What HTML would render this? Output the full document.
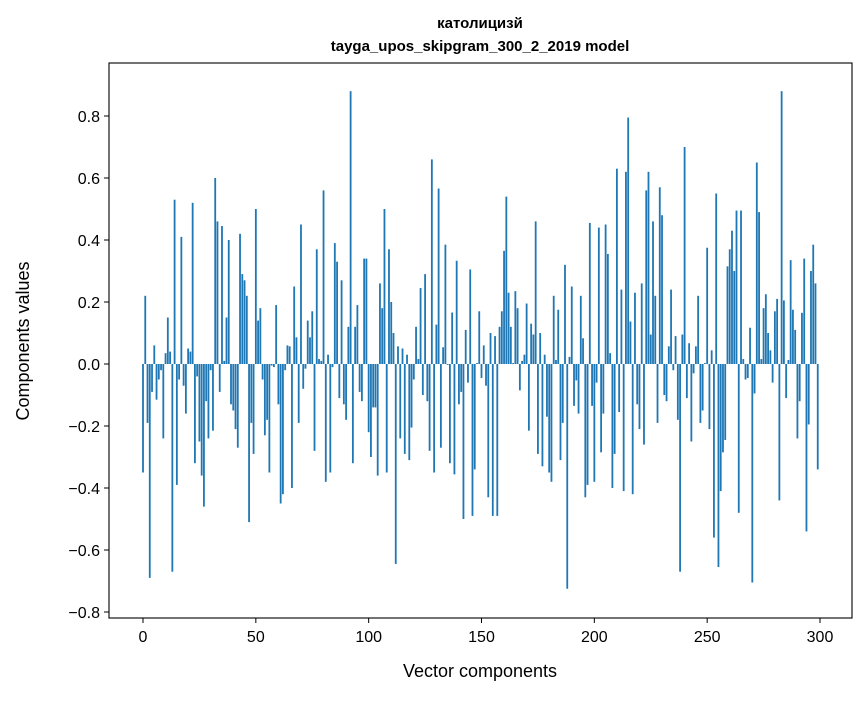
<!DOCTYPE html>
<html><head><meta charset="utf-8"><style>
body{margin:0;background:#fff;}
svg text{font-family:"Liberation Sans","DejaVu Sans",sans-serif;}
</style></head><body>
<svg id="chart" width="867" height="696" xmlns="http://www.w3.org/2000/svg">
<rect width="867" height="696" fill="#fff"/>
<text x="480" y="28" text-anchor="middle" font-size="15" font-weight="bold">католицизй</text>
<text x="480" y="51" text-anchor="middle" font-size="15" font-weight="bold">tayga_upos_skipgram_300_2_2019 model</text>
<g id="bars"></g>
<g id="axes"></g>
<text x="480" y="677" text-anchor="middle" font-size="18">Vector components</text>
<text x="29" y="341" text-anchor="middle" font-size="18" transform="rotate(-90 29 341)">Components values</text>
</svg>
<script>
const values = [
-0.35,0.22,-0.19,-0.69,-0.09,0.06,-0.115,-0.05,-0.02,-0.24,
0.035,0.15,0.04,-0.67,0.53,-0.39,-0.05,0.41,-0.07,-0.16,
0.05,0.04,0.52,-0.32,-0.04,-0.25,-0.36,-0.46,-0.12,-0.24,
-0.02,-0.215,0.60,0.46,-0.09,0.445,0.01,0.15,0.40,-0.13,
-0.15,-0.21,-0.27,0.42,0.29,0.27,0.22,-0.51,-0.19,-0.29,
0.50,0.14,0.18,-0.05,-0.23,-0.18,-0.35,-0.005,-0.01,0.19,
-0.13,-0.45,-0.42,-0.02,0.06,0.057,-0.40,0.25,0.086,-0.19,
0.45,-0.08,-0.015,0.14,0.086,0.17,-0.28,0.37,0.016,0.01,
0.56,-0.38,0.03,-0.35,-0.01,0.39,0.33,-0.11,0.27,-0.13,
-0.18,0.12,0.88,-0.32,0.12,0.19,-0.09,-0.12,0.34,0.34,
-0.22,-0.30,-0.14,-0.14,-0.36,0.26,0.18,0.50,-0.35,0.37,
0.20,0.10,-0.645,0.057,-0.24,0.05,-0.29,0.03,-0.31,-0.205,
-0.05,0.12,0.016,0.245,-0.10,0.29,-0.12,-0.28,0.66,-0.35,
0.127,0.566,-0.27,0.054,0.385,-0.003,-0.32,0.166,-0.356,0.333,
-0.13,-0.09,-0.50,0.11,-0.06,0.305,-0.49,-0.34,0.003,0.17,
-0.045,0.06,-0.07,-0.43,0.10,-0.49,0.09,-0.49,0.12,0.17,
0.365,0.54,0.23,0.12,0.003,0.235,0.18,-0.085,0.01,0.03,
0.195,-0.215,0.13,0.095,0.46,-0.29,0.10,-0.33,0.03,-0.17,
-0.35,-0.38,0.22,0.013,0.175,-0.31,-0.19,0.32,-0.725,0.023,
0.25,-0.135,-0.053,-0.16,0.22,0.083,-0.43,-0.39,0.455,-0.135,
-0.38,-0.06,0.44,-0.285,-0.16,0.45,0.355,0.035,-0.40,-0.29,
0.63,-0.155,0.24,-0.41,0.62,0.795,0.137,-0.42,0.23,-0.13,
-0.21,0.26,-0.26,0.56,0.62,0.095,0.46,0.22,-0.19,0.57,
0.48,-0.10,-0.12,0.057,0.24,-0.02,0.09,-0.18,-0.67,0.095,
0.70,-0.11,0.067,-0.25,-0.03,0.057,0.22,-0.19,-0.15,0.003,
0.375,-0.21,0.044,-0.56,0.55,-0.655,-0.41,-0.285,-0.245,0.315,
0.37,0.43,0.30,0.495,-0.48,0.495,0.016,-0.05,-0.045,0.117,
-0.705,-0.095,0.65,0.49,0.016,0.18,0.225,0.10,0.044,-0.06,
0.17,0.21,-0.44,0.88,0.205,-0.11,0.013,0.335,0.175,0.11,
-0.24,-0.12,0.165,0.34,-0.54,-0.195,0.30,0.385,0.26,-0.34
];
const xTicks = [0,50,100,150,200,250,300];
const yTicks = [-0.8,-0.6,-0.4,-0.2,0.0,0.2,0.4,0.6,0.8];
const yTickLabels = ["−0.8","−0.6","−0.4","−0.2","0.0","0.2","0.4","0.6","0.8"];

const NS="http://www.w3.org/2000/svg";
const plot={left:109,right:852,top:63,bottom:618};
function xs(i){return 143+i*(820-143)/300;}
function ys(v){return 364-v*310;}
const bw=0.8*(820-143)/300;
const bars=document.getElementById('bars');
values.forEach((v,i)=>{
  const r=document.createElementNS(NS,'rect');
  const y0=ys(0), y1=ys(v);
  r.setAttribute('x',xs(i)-bw/2);
  r.setAttribute('y',Math.min(y0,y1));
  r.setAttribute('width',bw);
  r.setAttribute('height',Math.abs(y1-y0));
  r.setAttribute('fill','#1f77b4');
  
  
  bars.appendChild(r);
});
const axes=document.getElementById('axes');
const frame=document.createElementNS(NS,'rect');
frame.setAttribute('x',plot.left);frame.setAttribute('y',plot.top);
frame.setAttribute('width',plot.right-plot.left);frame.setAttribute('height',plot.bottom-plot.top);
frame.setAttribute('fill','none');frame.setAttribute('stroke','#000');frame.setAttribute('stroke-width','1.1');


axes.appendChild(frame);
xTicks.forEach(t=>{
  const x=xs(t);
  const l=document.createElementNS(NS,'line');
  l.setAttribute('x1',x);l.setAttribute('x2',x);l.setAttribute('y1',plot.bottom);l.setAttribute('y2',plot.bottom+5);
  l.setAttribute('stroke','#000');
  
  
  axes.appendChild(l);
  const tx=document.createElementNS(NS,'text');
  tx.setAttribute('x',x);tx.setAttribute('y',642);tx.setAttribute('text-anchor','middle');tx.setAttribute('font-size','16');
  tx.textContent=String(t);
  
  
  axes.appendChild(tx);
});
yTicks.forEach((t,i)=>{
  const y=ys(t);
  const l=document.createElementNS(NS,'line');
  l.setAttribute('x1',plot.left-5);l.setAttribute('x2',plot.left);l.setAttribute('y1',y);l.setAttribute('y2',y);
  l.setAttribute('stroke','#000');
  
  
  axes.appendChild(l);
  const tx=document.createElementNS(NS,'text');
  tx.setAttribute('x',plot.left-9);tx.setAttribute('y',y+6);tx.setAttribute('text-anchor','end');tx.setAttribute('font-size','16');
  tx.textContent=yTickLabels[i];
  
  
  axes.appendChild(tx);
});
</script>
</body></html>
